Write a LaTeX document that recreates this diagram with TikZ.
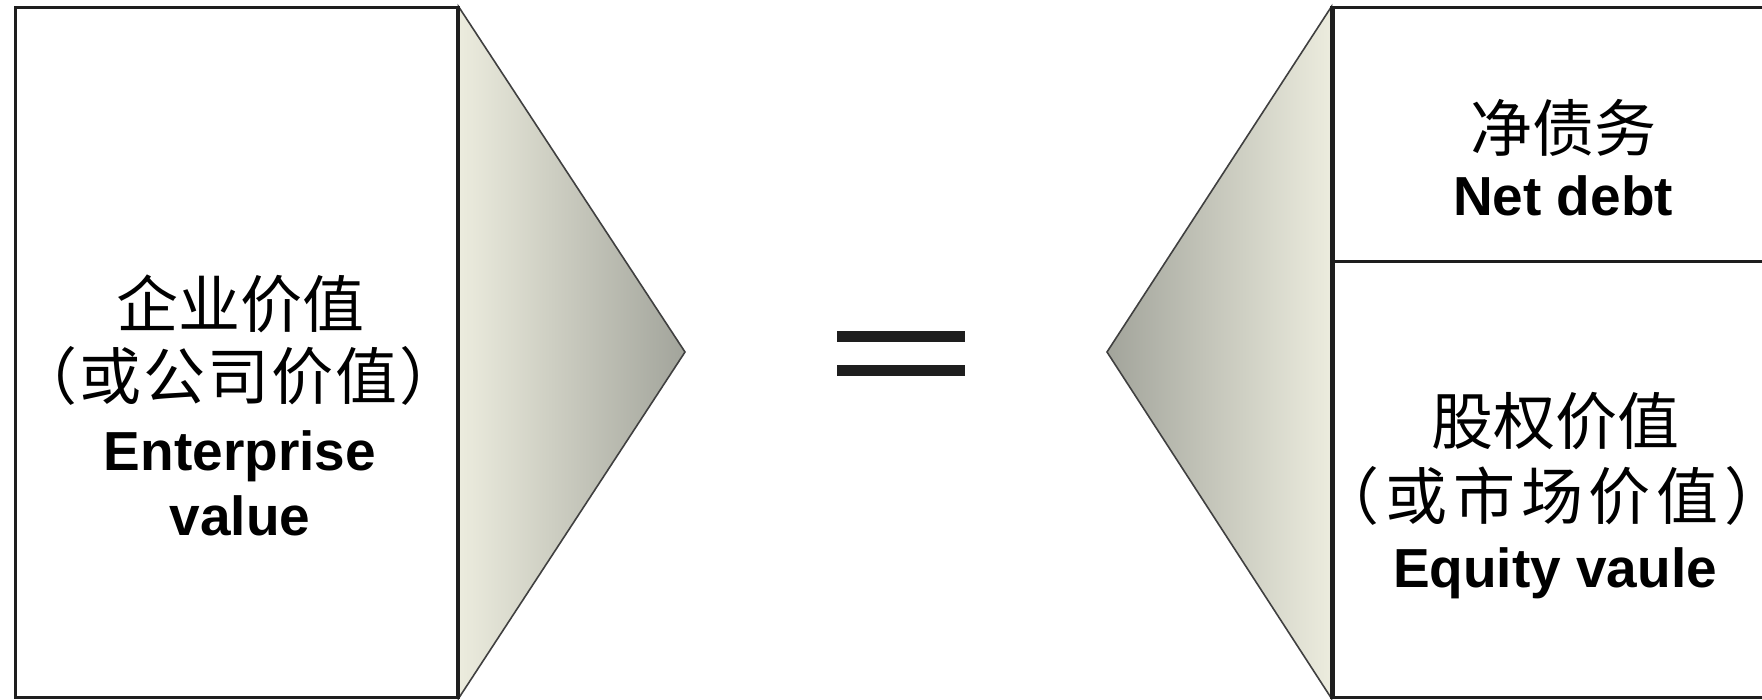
\documentclass[tikz,border=0pt]{standalone}
\usepackage{fontspec}
\setmainfont{Liberation Sans}
\newfontfamily\cjk{Noto Sans CJK SC}
\definecolor{lightend}{RGB}{236,236,222}
\definecolor{darkend}{RGB}{162,164,155}
\definecolor{edge}{RGB}{30,30,30}
\newcommand\gapL{\kern0.03em}
\newcommand\gapR{\kern0.095em}
\newcommand\parL{\kern-0.5em（}
\newcommand\parR{）\kern-0.5em}
\tikzset{
  box/.style={draw=edge, line width=1.5pt, rectangle, inner sep=0pt, fill=white},
  cjkline/.style={font=\cjk\fontsize{31}{31}\selectfont, inner sep=0pt, anchor=base},
  latline/.style={font=\bfseries\fontsize{27.5}{27.5}\selectfont, inner sep=0pt, anchor=base},
  tri/.style={draw=edge!85, line width=0.8pt, line join=miter},
  bar/.style={fill=edge, draw=none}
}
\begin{document}
\begin{tikzpicture}[x=0.5pt,y=-0.5pt]
\clip (0,0) rectangle (1762,700);
\fill[white] (0,0) rectangle (1762,700);
% left box
\node[box, minimum width=221pt, minimum height=344.5pt] (ev) at (236,352.5) {};
% right boxes
\node[box, minimum width=224.5pt, minimum height=127pt] (nd) at (1557.5,135) {};
\node[box, minimum width=224.5pt, minimum height=217.5pt] (eqv) at (1557.5,479.5) {};
% apexes
\coordinate (lapex) at (685,352);
\coordinate (rapex) at (1107,352);
% triangles
\path[tri, left color=lightend, right color=darkend]
  (ev.north east) -- (lapex) -- (ev.south east) -- cycle;
\path[tri, left color=darkend, right color=lightend]
  (nd.north west) -- (rapex) -- (eqv.south west) -- cycle;
% redraw box borders over triangles
\draw[edge, line width=1.5pt] (ev.north east) -- (ev.south east);
\draw[edge, line width=1.5pt] (nd.north west) -- (eqv.south west);
% equals sign
\fill[bar] (837,331) rectangle (965,342);
\fill[bar] (837,365) rectangle (965,376);
% left texts
\node[cjkline] (ev1) at (240,328) {企业价值};
\node[cjkline] (ev2) at (238.5,400) {\parL\gapL 或\gapL 公\gapL 司\gapL 价\gapL 值\gapL\parR};
\node[latline] (ev3) at (240,470) {Enterprise};
\node[latline] (ev4) at (240,535) {value};
% right top texts
\node[cjkline] (nd1) at (1563,152) {净债务};
\node[latline] (nd2) at (1563,216) {Net debt};
% right bottom texts
\node[cjkline] (eq1) at (1555,444) {股权价值};
\node[cjkline] (eq2) at (1552,519) {\parL\gapR 或\gapR 市\gapR 场\gapR 价\gapR 值\gapR\parR};
\node[latline] (eq3) at (1555,587) {Equity vaule};
\end{tikzpicture}
\end{document}
